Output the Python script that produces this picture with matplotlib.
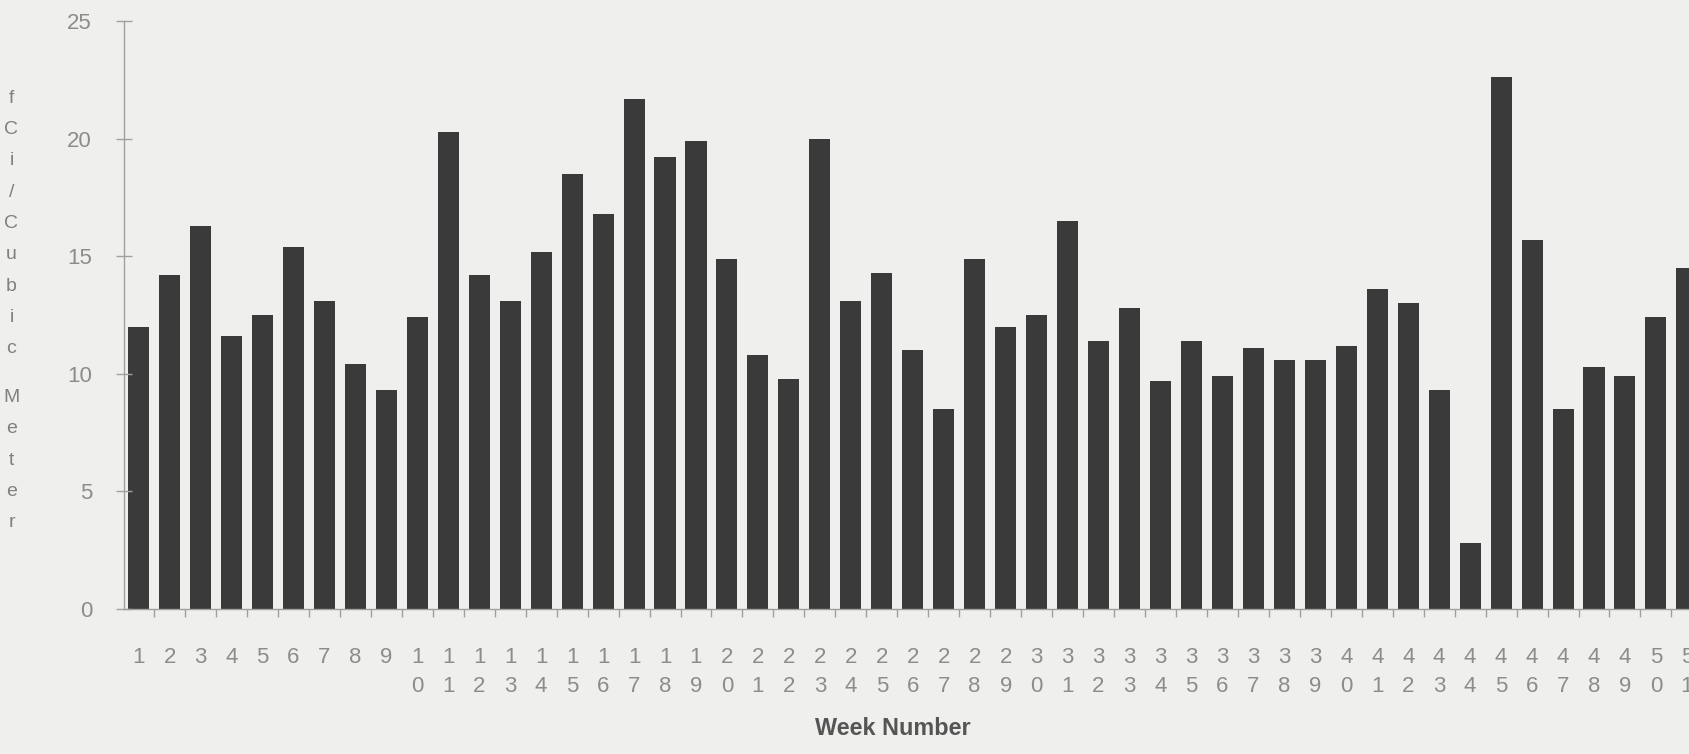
import numpy as np
import matplotlib.pyplot as plt

# weekly air sample results, fCi per cubic meter
weeks = list(range(1, 52))
values = [12.0, 14.2, 16.3, 11.6, 12.5, 15.4, 13.1, 10.4, 9.3, 12.4,
          20.3, 14.2, 13.1, 15.2, 18.5, 16.8, 21.7, 19.2, 19.9, 14.9,
          10.8, 9.8, 20.0, 13.1, 14.3, 11.0, 8.5, 14.9, 12.0, 12.5,
          16.5, 11.4, 12.8, 9.7, 11.4, 9.9, 11.1, 10.6, 10.6, 11.2,
          13.6, 13.0, 9.3, 2.8, 22.6, 15.7, 8.5, 10.3, 9.9, 12.4,
          14.5]
week_labels = ['\n'.join(str(w)) for w in weeks]
y_ticks = [0, 5, 10, 15, 20, 25]
y_label_words = ['fCi/Cubic', 'Meter']
x_label = 'Week Number'

bg = '#efefed'
bar_color = '#3a3a3a'
light = '#a0a0a0'
text_gray = '#8c8c8c'

plt.rcParams['font.family'] = ['Liberation Sans', 'DejaVu Sans']

fig = plt.figure(figsize=(16.9, 7.54), dpi=100, facecolor=bg)
ax = fig.add_axes([0.0734, 0.1923, 0.9266, 0.7798])
ax.set_facecolor(bg)

ax.bar(weeks, values, width=0.68, color=bar_color, edgecolor='none')

ax.set_xlim(0.53, 51.1)
ax.set_ylim(0, 25)

ax.set_yticks(y_ticks)
ax.set_yticklabels([str(t) for t in y_ticks])
ax.tick_params(axis='y', direction='inout', length=12, width=1, color=light,
               labelsize=16, labelcolor=text_gray, pad=17)

ax.set_xticks(weeks)
ax.set_xticklabels(week_labels, linespacing=1.5)
ax.set_xticks(np.arange(1.5, 51, 1), minor=True)
ax.tick_params(axis='x', which='major', length=0, labelsize=16,
               labelcolor=text_gray, pad=27)
ax.tick_params(axis='x', which='minor', direction='out', length=6,
               width=1, color=light)

for side in ['top', 'right']:
    ax.spines[side].set_visible(False)
for side in ['left', 'bottom']:
    ax.spines[side].set_color(light)
    ax.spines[side].set_linewidth(1)

# stacked letters for the y axis title, one block per word
for word, top in zip(y_label_words, [0.881, 0.484]):
    fig.text(0.0068, top, '\n'.join(word), ha='center', va='top',
             fontsize=14, color='#808080', linespacing=2.1)

fig.text(0.528, 0.018, x_label, ha='center', va='bottom', fontsize=16.8,
         fontweight='bold', color='#555555')

fig.savefig('out.png', dpi=100, facecolor=bg)
